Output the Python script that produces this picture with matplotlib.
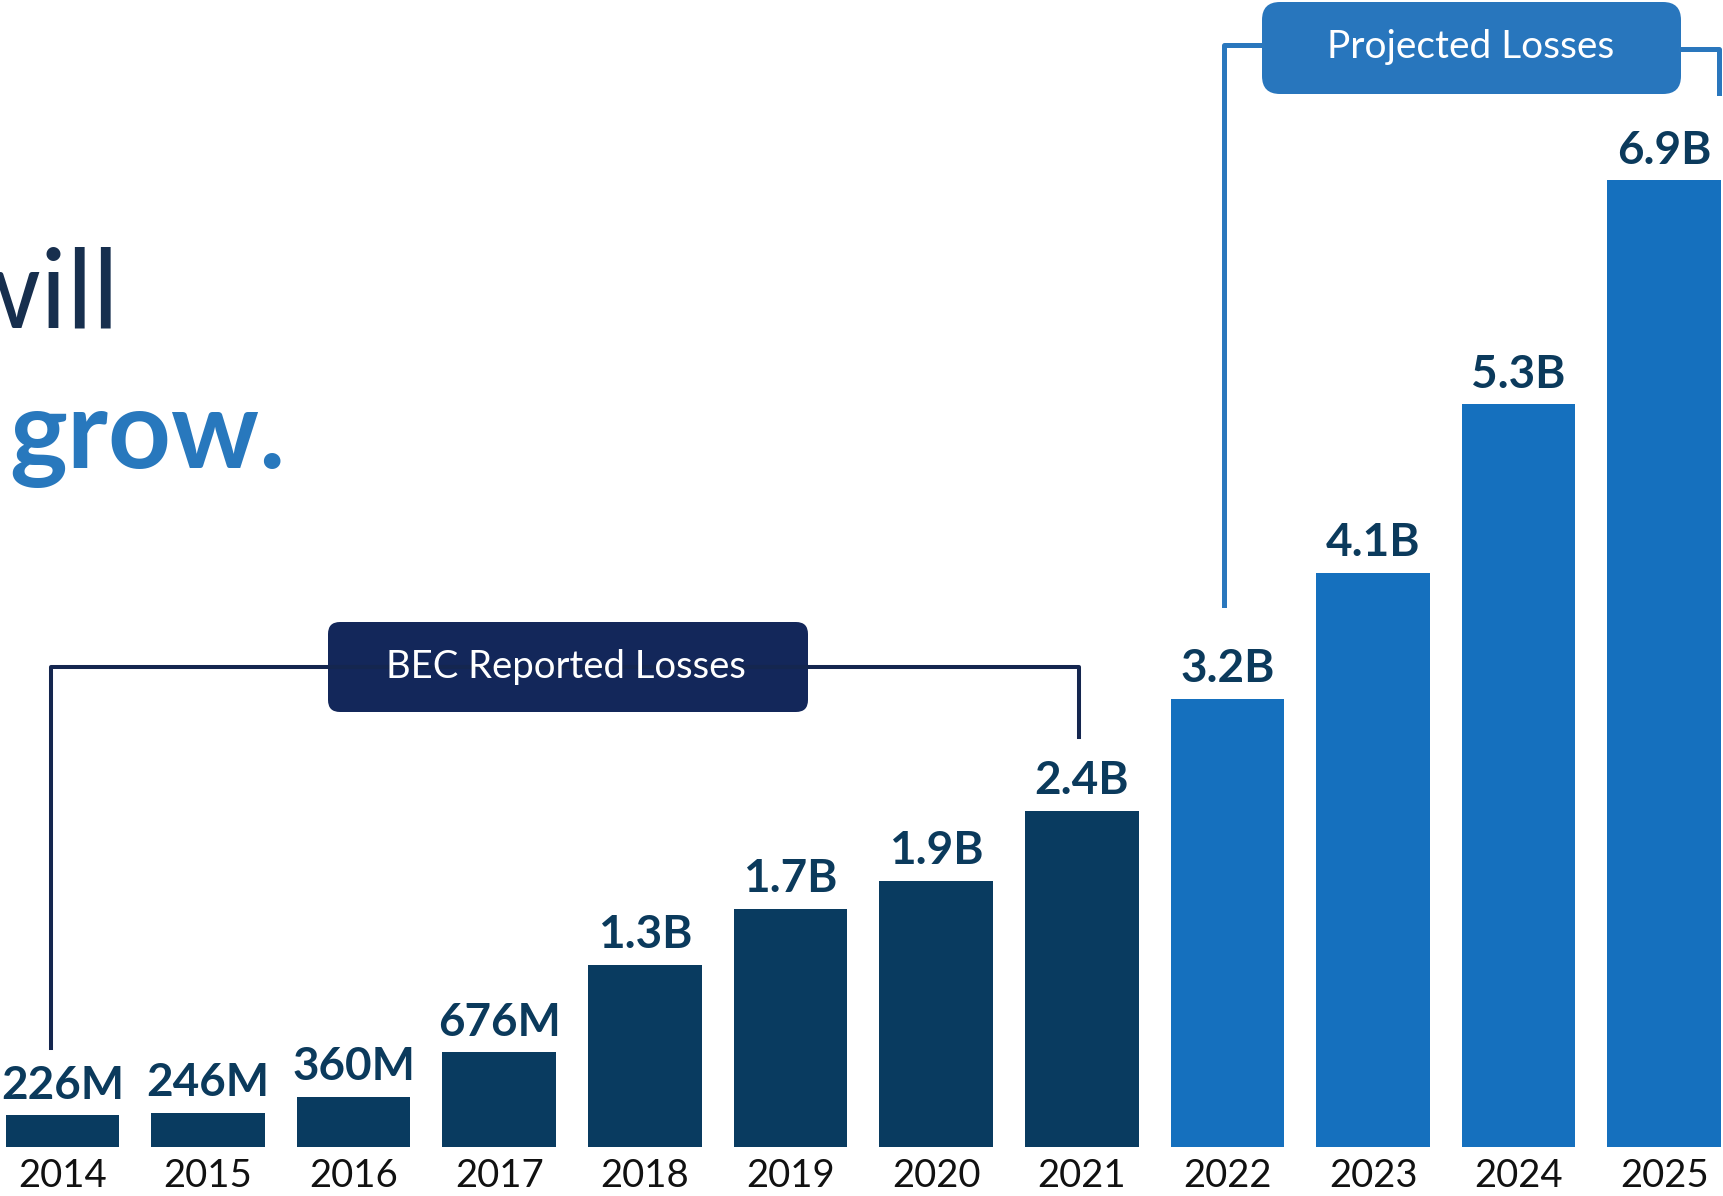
import matplotlib
matplotlib.use("Agg")
import matplotlib.pyplot as plt
from matplotlib.patches import FancyBboxPatch
from matplotlib.transforms import Affine2D

W, H = 1724, 1196

years = ['2014', '2015', '2016', '2017', '2018', '2019',
         '2020', '2021', '2022', '2023', '2024', '2025']
losses_b = [0.226, 0.246, 0.360, 0.676, 1.3, 1.7, 1.9, 2.4, 3.2, 4.1, 5.3, 6.9]
value_labels = ['226M', '246M', '360M', '676M', '1.3B', '1.7B',
                '1.9B', '2.4B', '3.2B', '4.1B', '5.3B', '6.9B']
projected = [False] * 8 + [True] * 4

dark_bar = '#093b60'
blue_bar = '#1570be'
navy = '#13275a'
box_blue = '#2876bd'

fig = plt.figure(figsize=(W / 100, H / 100), dpi=100)
ax = fig.add_axes([0, 0, 1, 1])
ax.set_xlim(-0.428, 11.41)
ax.set_ylim(-0.35, 8.187)
ax.axis('off')

# pixel coords measured from the top-left corner
px = Affine2D().scale(1 / W, -1 / H).translate(0, 1) + fig.transFigure

x = list(range(len(years)))
colors = [blue_bar if p else dark_bar for p in projected]
bars = ax.bar(x, losses_b, width=0.78, color=colors, zorder=2)

for xi, v, lab in zip(x, losses_b, value_labels):
    ax.annotate(lab, (xi, v), xytext=(0, 12), textcoords='offset points',
                ha='center', va='baseline', fontsize=33, fontweight='bold',
                family='Lato', color='#0b3a5c')
for xi, yr in zip(x, years):
    ax.text(xi, -0.286, yr, ha='center', va='baseline', fontsize=27.5,
            family='Lato', color='#111111')

# title fragments, cut off by the left edge as in the slide
fig.text(119, 328, 'will', transform=px, ha='right', va='baseline',
         fontsize=79, family='Lato', color='#172f4e')
fig.text(9, 468, 'grow.', transform=px, ha='left', va='baseline',
         fontsize=79, family='Lato', fontweight='bold', color='#2878bd')

# BEC bracket
fig.add_artist(plt.Line2D([50.6, 50.6, 1079, 1079], [1048, 667, 667, 737],
                          transform=px, color='#14264f', lw=2.9))
fig.add_artist(FancyBboxPatch((328, 622), 480, 90,
                              boxstyle='round,pad=0,rounding_size=12',
                              transform=px, fc=navy, ec='none'))
fig.text(566, 667, 'BEC Reported Losses', transform=px, ha='center',
         va='center', fontsize=27.5, family='Lato', color='white')

# projected bracket
fig.add_artist(plt.Line2D([1224, 1224, 1262], [605, 45, 45],
                          transform=px, color='#2a77bd', lw=3.6))
fig.add_artist(plt.Line2D([1681, 1719, 1719], [49, 49, 93],
                          transform=px, color='#2a77bd', lw=3.6))
fig.add_artist(FancyBboxPatch((1262, 2), 419, 92,
                              boxstyle='round,pad=0,rounding_size=18',
                              transform=px, fc=box_blue, ec='none'))
fig.text(1471, 47, 'Projected Losses', transform=px, ha='center',
         va='center', fontsize=28, family='Lato', color='white')

fig.savefig('out.png', dpi=100, facecolor='white')
